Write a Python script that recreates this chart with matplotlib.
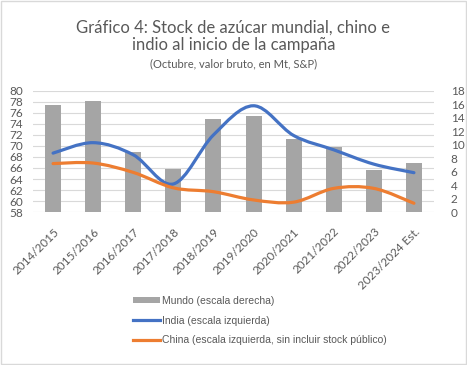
import matplotlib
matplotlib.use('Agg')
import matplotlib.pyplot as plt
import numpy as np
from matplotlib.path import Path
from matplotlib.patches import PathPatch, Rectangle
from matplotlib.lines import Line2D

campanas = ['2014/2015', '2015/2016', '2016/2017', '2017/2018', '2018/2019',
            '2019/2020', '2020/2021', '2021/2022', '2022/2023', '2023/2024 Est.']
mundo = [15.9, 16.5, 8.9, 6.45, 13.8, 14.3, 10.9, 9.6, 6.25, 7.3]
india = [68.7, 70.6, 68.4, 63.1, 72.0, 77.3, 71.9, 69.3, 66.7, 65.15]
china = [66.8, 66.9, 65.2, 62.4, 61.7, 60.2, 59.8, 62.3, 62.3, 59.6]

GRIS = '#595959'
plt.rcParams['font.family'] = ['Lato', 'DejaVu Sans']


def smooth_path(x, y):
    # bezier como el suavizado de Excel
    pts = np.column_stack([x, y]).astype(float)
    verts = [pts[0]]
    codes = [Path.MOVETO]
    n = len(pts)
    for i in range(n - 1):
        p0 = pts[i - 1] if i > 0 else pts[i]
        p1 = pts[i]
        p2 = pts[i + 1]
        p3 = pts[i + 2] if i + 2 < n else pts[i + 1]
        c1 = p1 + (p2 - p0) / 6.0
        c2 = p2 - (p3 - p1) / 6.0
        verts += [c1, c2, p2]
        codes += [Path.CURVE4] * 3
    return Path(verts, codes)


fig = plt.figure(figsize=(4.67, 3.65), dpi=100)
fig.patches.append(Rectangle((0.002, 0.003), 0.995, 0.994, transform=fig.transFigure,
                             fill=False, edgecolor='#D9D9D9', linewidth=1))

ax = fig.add_axes([0.0707, 0.419, 0.8586, 0.332])
x = np.arange(len(campanas))
ax.set_xlim(-0.5, len(campanas) - 0.5)
ax.set_ylim(58, 80)
ax.set_yticks(np.arange(58, 81, 2))
ax.grid(axis='y', color='#D9D9D9', linewidth=0.8)
ax.set_axisbelow(True)
for s in ax.spines.values():
    s.set_visible(False)
ax.tick_params(length=0, colors=GRIS, labelsize=8.5)
ax.tick_params(axis='y', pad=7)
ax.set_xticks(x)
ax.set_xticklabels(campanas, rotation=45, ha='right', rotation_mode='anchor')
ax.tick_params(axis='x', pad=10)

axb = ax.twinx()
bars = axb.bar(x, mundo, width=0.4, color='#A5A5A5', label='Mundo (escala derecha)')
axb.set_ylim(0, 18)
axb.set_yticks(np.arange(0, 19, 2))
axb.tick_params(length=0, colors=GRIS, labelsize=8.5, pad=12)
for s in axb.spines.values():
    s.set_visible(False)

axl = ax.twinx()
axl.set_ylim(58, 80)
axl.set_yticks([])
for s in axl.spines.values():
    s.set_visible(False)
axl.add_patch(PathPatch(smooth_path(x, india), fill=False, edgecolor='#4472C4',
                        linewidth=2.3, capstyle='round'))
axl.add_patch(PathPatch(smooth_path(x, china), fill=False, edgecolor='#ED7D31',
                        linewidth=2.3, capstyle='round'))

fig.text(0.5, 0.925, 'Gráfico 4: Stock de azúcar mundial, chino e', ha='center',
         va='center', fontsize=12, color=GRIS)
fig.text(0.5, 0.878, 'indio al inicio de la campaña', ha='center',
         va='center', fontsize=12, color=GRIS)
fig.text(0.5, 0.826, '(Octubre, valor bruto, en Mt, S&P)', ha='center',
         va='center', fontsize=8, color=GRIS)

handles = [bars,
           Line2D([], [], color='#4472C4', linewidth=2.3),
           Line2D([], [], color='#ED7D31', linewidth=2.3)]
labels = ['Mundo (escala derecha)', 'India (escala izquierda)',
          'China (escala izquierda, sin incluir stock público)']
leg = fig.legend(handles, labels, loc='upper left', bbox_to_anchor=(0.285, 0.19),
                 frameon=False, prop={'family': 'Liberation Sans', 'size': 7.5},
                 handlelength=2.6, handleheight=0.5, handletextpad=0.2,
                 labelspacing=0.95, borderaxespad=0, borderpad=0)
for t in leg.get_texts():
    t.set_color(GRIS)

fig.savefig('out.png', dpi=100)
